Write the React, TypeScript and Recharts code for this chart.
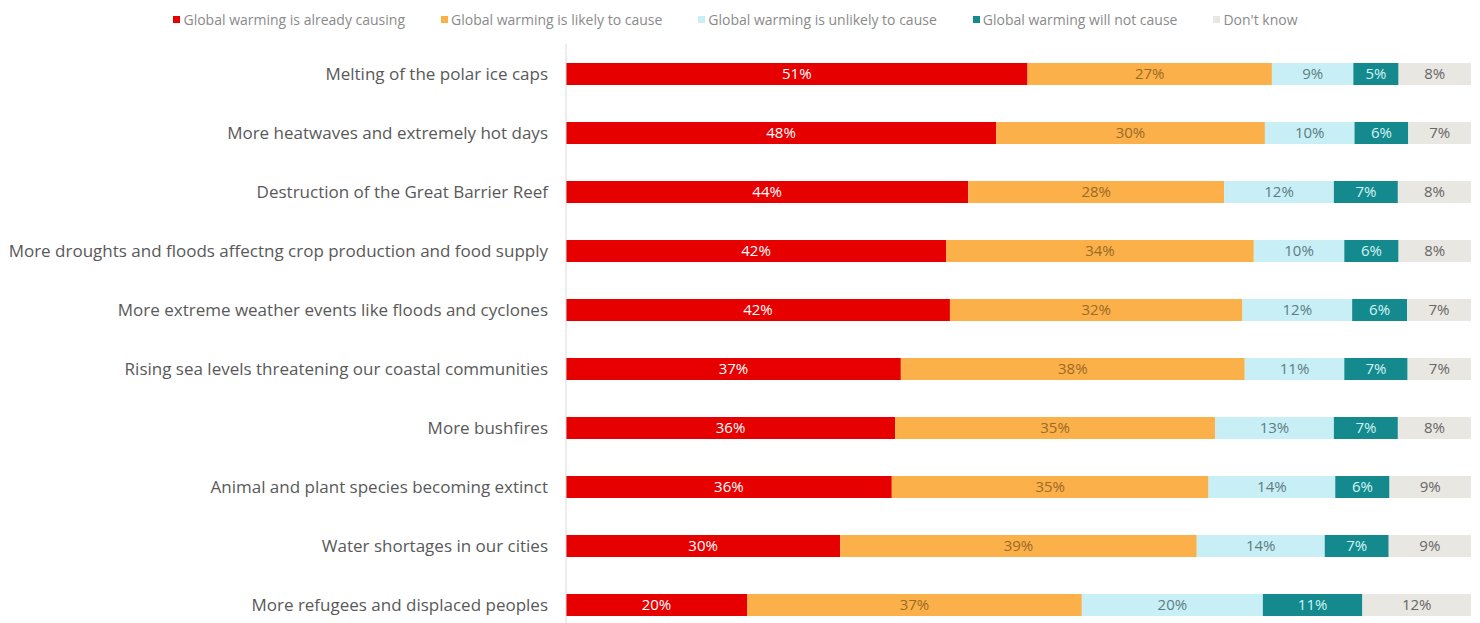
import React from "react";
import { BarChart, Bar, XAxis, YAxis, Legend, LabelList } from "recharts";

const categories = [
  "Melting of the polar ice caps",
  "More heatwaves and extremely hot days",
  "Destruction of the Great Barrier Reef",
  "More droughts and floods affectng crop production and food supply",
  "More extreme weather events like floods and cyclones",
  "Rising sea levels threatening our coastal communities",
  "More bushfires",
  "Animal and plant species becoming extinct",
  "Water shortages in our cities",
  "More refugees and displaced peoples",
];

const alreadyCausing = [51, 48, 44, 42, 42, 37, 36, 36, 30, 20];
const likelyToCause = [27, 30, 28, 34, 32, 38, 35, 35, 39, 37];
const unlikelyToCause = [9, 10, 12, 10, 12, 11, 13, 14, 14, 20];
const willNotCause = [5, 6, 7, 6, 6, 7, 7, 6, 7, 11];
const dontKnow = [8, 7, 8, 8, 7, 7, 8, 9, 9, 12];

const series = [
  { key: "already", name: "Global warming is already causing", color: "#e60000", text: "#ffffff" },
  { key: "likely", name: "Global warming is likely to cause", color: "#fbb04a", text: "#9a6a28" },
  { key: "unlikely", name: "Global warming is unlikely to cause", color: "#c8eff5", text: "#5d7c82" },
  { key: "willNot", name: "Global warming will not cause", color: "#148a8e", text: "#d2f4f4" },
  { key: "dontKnow", name: "Don't know", color: "#e9e7e2", text: "#666666" },
];

const data = categories.map((name, i) => ({
  name,
  already: alreadyCausing[i],
  likely: likelyToCause[i],
  unlikely: unlikelyToCause[i],
  willNot: willNotCause[i],
  dontKnow: dontKnow[i],
}));

const font = "'Open Sans', Lato, sans-serif";

function LegendRow() {
  return (
    <div style={{ display: "flex", justifyContent: "center", fontFamily: font, fontSize: 14, color: "#8a8a8a", paddingLeft: 36 }}>
      {series.map((s) => (
        <div key={s.key} style={{ display: "flex", alignItems: "center", marginRight: 36 }}>
          <span style={{ width: 7, height: 7, background: s.color, display: "inline-block", marginRight: 3 }} />
          <span>{s.name}</span>
        </div>
      ))}
    </div>
  );
}

export default function App() {
  return (
    <div style={{ position: "absolute", left: 0, top: 0, width: 1480, height: 623, overflow: "hidden", background: "#fff" }}>
      <BarChart
        width={1480}
        height={652}
        data={data}
        layout="vertical"
        stackOffset="expand"
        barCategoryGap={0}
        margin={{ top: 20, right: 9, bottom: 18, left: 0 }}
      >
        <XAxis type="number" hide domain={[0, 1]} />
        <YAxis
          type="category"
          dataKey="name"
          width={566}
          tickLine={false}
          tickSize={0}
          tickMargin={18}
          axisLine={{ stroke: "#d9d9d9" }}
          tick={{ fill: "#595959", fontSize: 17, fontFamily: font }}
          interval={0}
        />
        <Legend verticalAlign="top" height={24} content={() => <LegendRow />} wrapperStyle={{ top: 10 }} />
        {series.map((s) => (
          <Bar key={s.key} dataKey={s.key} name={s.name} stackId="a" fill={s.color} barSize={22} isAnimationActive={false}>
            <LabelList
              dataKey={s.key}
              position="center"
              formatter={(v: any) => `${v}%`}
              style={{ fill: s.text, fontSize: 15, fontFamily: font }}
            />
          </Bar>
        ))}
      </BarChart>
    </div>
  );
}
